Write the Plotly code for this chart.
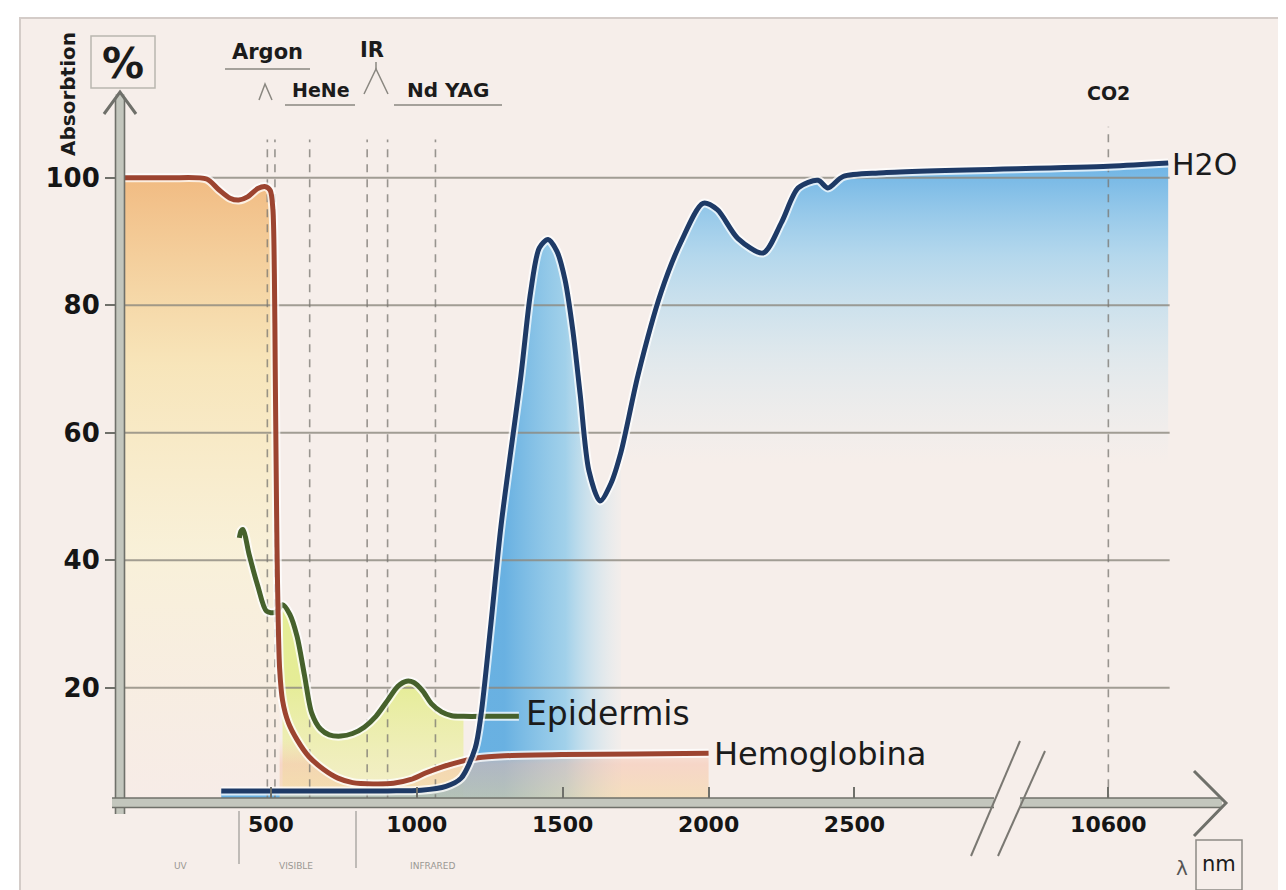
import numpy as np
import plotly.graph_objects as go

# ---------------- data ----------------
hemo_nm = [0, 150, 280, 320, 360, 390, 420, 455, 482, 498, 507, 512, 515, 518, 521, 525, 530, 540,
           560, 590, 630, 680, 730, 780, 850, 920, 980, 1030, 1090, 1150, 1210, 1300, 1500, 1750, 2000]
hemo_y = [100, 100, 99.8, 98.2, 96.8, 96.5, 97, 98.3, 98.6, 98, 95, 85, 70, 55, 42, 31, 23, 18,
          14.5, 11.8, 9.2, 7.2, 5.8, 5.1, 4.9, 5.0, 5.6, 6.6, 7.6, 8.4, 9.0, 9.3, 9.5, 9.6, 9.7]

epi_nm = [392, 398, 405, 425, 455, 485, 515, 540, 565, 590, 615, 640, 670, 700, 740, 780, 820,
          860, 900, 935, 965, 990, 1020, 1050, 1085, 1120, 1160, 1250, 1350]
epi_y = [43.5, 44.6, 44.8, 41, 36, 32, 31.8, 33, 31.5, 28, 22, 16, 13.5, 12.6, 12.4, 12.8, 13.8,
         15.5, 18, 20.2, 21, 20.8, 19.5, 17.5, 16.2, 15.6, 15.5, 15.5, 15.5]

water_nm = [330, 600, 900, 1015, 1100, 1152, 1200, 1220, 1254, 1289, 1357, 1390, 1420, 1450, 1480,
            1508, 1535, 1560, 1590, 1628, 1665, 1700, 1758, 1837, 1906, 1981, 2030, 2100, 2187,
            2250, 2307, 2375, 2409, 2461, 2600, 10600, 11420]
water_y = [3.8, 3.8, 3.8, 3.9, 4.5, 5.8, 10.5, 15.7, 30, 45.5, 69, 82, 89, 90.3, 88.5,
           84, 76, 66, 54, 49.3, 52, 57, 69, 82, 90, 96, 95, 90.5, 88.2,
           93, 98.4, 99.6, 98.4, 100.2, 100.8, 101.8, 102.3]

laser_lines_nm = [488, 514, 633, 830, 900, 1064, 10600]
x_ticks_nm = [500, 1000, 1500, 2000, 2500, 10600]
x_tick_text = ["500", "1000", "1500", "2000", "2500", "10600"]
y_ticks = [20, 40, 60, 80, 100]
y_tick_text = ["20", "40", "60", "80", "100"]
grid_end_nm = 11440

# broken x axis: 0-3000 nm linear, then compressed segment around 10600 nm
BREAK_IN = [0, 3000, 10600, 12000]
BREAK_OUT = [0, 3000, 3370, 3720]


def pos(w):
    return np.interp(np.asarray(w, dtype=float), BREAK_IN, BREAK_OUT)


# ---------------- layout geometry ----------------
WIDTH, HEIGHT = 1286, 890
L, R, T, B = 112, 66, 85, 95
W = WIDTH - L - R
H = HEIGHT - T - B
BG = "#f6eeea"
AX = "#6f706a"
FONT = "DejaVu Sans, Liberation Sans, Arial, sans-serif"


def PX(px):
    return (px - L) / W


def PY(py):
    return (HEIGHT - B - py) / H


fig = go.Figure()
spl = dict(shape="spline", smoothing=0.8)

hx = pos(hemo_nm)
hy = np.array(hemo_y)
ex = pos(epi_nm)
ey = np.array(epi_y)
wx = pos(water_nm)
wy = np.array(water_y)
wn = np.array(water_nm)
hn = np.array(hemo_nm)
en = np.array(epi_nm)

# hemoglobin main fill (orange -> pale)
m = hn <= 530
fig.add_trace(go.Scatter(x=hx[m], y=hy[m], mode="none", fill="tozeroy", line=spl,
                         fillgradient=dict(type="vertical", start=2, stop=100,
                                           colorscale=[[0, "rgba(248,232,225,0.35)"],
                                                       [0.4, "rgba(250,242,205,0.6)"],
                                                       [0.7, "rgba(248,225,165,0.7)"],
                                                       [1, "rgba(240,178,112,0.85)"]]),
                         hoverinfo="skip"))
# epidermis fill (yellow-green)
m = (en >= 540) & (en <= 1160)
fig.add_trace(go.Scatter(x=ex[m], y=ey[m], mode="none", fill="tozeroy", line=spl,
                         fillgradient=dict(type="vertical", start=2, stop=21,
                                           colorscale=[[0, "rgba(243,240,185,0.6)"],
                                                       [1, "rgba(226,236,135,0.85)"]]),
                         hoverinfo="skip"))
# water fills: right part fades downward, left peak fades to the right
m = wn >= 1535
fig.add_trace(go.Scatter(x=wx[m], y=wy[m], mode="none", fill="tozeroy", line=spl,
                         fillgradient=dict(type="vertical", start=55, stop=102,
                                           colorscale=[[0, "rgba(200,232,246,0)"],
                                                       [0.35, "rgba(170,218,242,0.28)"],
                                                       [0.7, "rgba(135,200,238,0.6)"],
                                                       [1, "rgba(92,172,228,0.88)"]]),
                         hoverinfo="skip"))
m = wn <= 1700
fig.add_trace(go.Scatter(x=wx[m], y=wy[m], mode="none", fill="tozeroy", line=spl,
                         fillgradient=dict(type="horizontal", start=float(pos(1300)), stop=float(pos(1720)),
                                           colorscale=[[0, "rgba(80,166,224,0.85)"],
                                                       [0.5, "rgba(125,196,234,0.7)"],
                                                       [1, "rgba(200,232,246,0.0)"]]),
                         hoverinfo="skip"))
# hemoglobin tail fill (peach band under the red tail)
m = hn >= 530
fig.add_trace(go.Scatter(x=hx[m], y=hy[m], mode="none", fill="tozeroy", line=spl,
                         fillgradient=dict(type="vertical", start=2, stop=12,
                                           colorscale=[[0, "rgba(244,212,150,0.55)"],
                                                       [0.6, "rgba(246,190,165,0.5)"],
                                                       [1, "rgba(246,195,170,0.0)"]]),
                         hoverinfo="skip"))

# grid lines (drawn over fills, under curves)
for yv in y_ticks:
    fig.add_trace(go.Scatter(x=[0, float(pos(grid_end_nm))], y=[yv, yv], mode="lines",
                             line=dict(color="rgba(140,136,126,0.8)", width=2), hoverinfo="skip"))

# laser dashed verticals
for lw in laser_lines_nm:
    top = 108 if lw == 10600 else 106
    fig.add_trace(go.Scatter(x=[float(pos(lw))] * 2, y=[2, top], mode="lines",
                             line=dict(color="rgba(120,118,112,0.75)", width=1.6, dash="8px,7px"),
                             hoverinfo="skip"))

# curves with light halos
for xs, ys, col, wd in [(ex, ey, "#46612c", 5), (hx, hy, "#9c4430", 5), (wx, wy, "#1e3a66", 5)]:
    fig.add_trace(go.Scatter(x=xs, y=ys, mode="lines",
                             line=dict(color="rgba(255,255,255,0.75)", width=wd + 4, shape="spline", smoothing=0.8),
                             hoverinfo="skip"))
    fig.add_trace(go.Scatter(x=xs, y=ys, mode="lines",
                             line=dict(color=col, width=wd, shape="spline", smoothing=0.8),
                             hoverinfo="skip"))

shapes = []


def pline(x0, y0, x1, y1, color=AX, width=2, layer="above"):
    shapes.append(dict(type="line", xref="paper", yref="paper", x0=PX(x0), y0=PY(y0),
                       x1=PX(x1), y1=PY(y1), line=dict(color=color, width=width), layer=layer))


def ppath(pts, color=AX, width=2):
    d = "M " + " L ".join(f"{PX(a):.5f},{PY(b):.5f}" for a, b in pts)
    shapes.append(dict(type="path", xref="paper", yref="paper", path=d,
                       line=dict(color=color, width=width), layer="above"))


# page background with thin scan border
shapes.append(dict(type="rect", xref="paper", yref="paper", x0=PX(12), y0=PY(884), x1=PX(1282), y1=PY(10),
                   fillcolor=BG, line=dict(color="#d4ccc8", width=2), layer="below"))

# y axis (double line band)
pline(112, 806, 112, 86, color="#c3c6bd", width=9)
pline(107.5, 806, 107.5, 90, width=1.6)
pline(116.5, 806, 116.5, 90, width=1.6)
ppath([(96, 106), (112, 84), (128, 106)], width=3)
# x axis (double line band)
pline(104, 794.5, 1214, 794.5, color="#c3c6bd", width=9)
pline(104, 790, 1214, 790, width=1.6)
pline(104, 799.5, 1214, 799.5, width=1.6)
ppath([(1186, 763), (1218, 795), (1186, 828)], width=3)
# axis break
shapes.append(dict(type="rect", xref="paper", yref="paper", x0=PX(986), y0=PY(806), x1=PX(1012), y1=PY(784),
                   fillcolor=BG, line=dict(width=0), layer="above"))
pline(963, 848, 1012, 733, color="#7a7872", width=2)
pline(990, 848, 1037, 743, color="#7a7872", width=2)

# % box
shapes.append(dict(type="rect", xref="paper", yref="paper", x0=PX(83), y0=PY(80), x1=PX(147), y1=PY(28),
                   line=dict(color="#b9b6b0", width=1.5), layer="above"))
# nm box
shapes.append(dict(type="rect", xref="paper", yref="paper", x0=PX(1188), y0=PY(882), x1=PX(1234), y1=PY(832),
                   line=dict(color="#8d8a85", width=1.5), layer="above"))

# laser label underlines and carets
pline(217, 61, 302, 61, color="#8a8780", width=1.6)
pline(277, 97, 347, 97, color="#8a8780", width=1.6)
pline(386, 97, 494, 97, color="#8a8780", width=1.6)
ppath([(251, 92), (257, 76), (264, 92)], color="#8a8780", width=1.5)
ppath([(356, 86), (368, 61), (380, 86)], color="#8a8780", width=1.5)
pline(368, 54, 368, 61, color="#8a8780", width=1.5)

# spectrum brackets under the axis
pline(231, 803, 231, 856, color="#9c9994", width=1.2)
pline(348, 803, 348, 860, color="#9c9994", width=1.2)

annotations = []


def label(text, x, y, size, color="#1b1b1b", weight="normal", angle=0):
    annotations.append(dict(text=text, xref="paper", yref="paper", x=PX(x), y=PY(y),
                            xanchor="center", yanchor="middle", showarrow=False, textangle=angle,
                            font=dict(family=FONT, size=size, color=color, weight=weight)))


label("Absorbtion", 60, 86, 20, weight="bold", angle=-90)
label("%", 115, 55, 42, weight="bold")
label("Argon", 259, 44, 21, weight="bold")
label("IR", 364, 42, 21, weight="bold")
label("HeNe", 313, 82, 19, weight="bold")
label("Nd YAG", 440, 82, 20, weight="bold")
label("CO2", 1100, 85, 19, weight="bold")
label("H2O", 1196, 156, 30)
label("Epidermis", 600, 705, 33)
label("Hemoglobina", 812, 746, 32)
label("UV", 173, 858, 9, color="#9a9893")
label("VISIBLE", 288, 858, 9, color="#9a9893")
label("INFRARED", 425, 858, 9, color="#9a9893")
label("λ", 1174, 860, 20, color="#555")
label("nm", 1211, 856, 21)

fig.update_layout(
    width=WIDTH, height=HEIGHT,
    margin=dict(l=L, r=R, t=T, b=B),
    paper_bgcolor="white", plot_bgcolor="rgba(0,0,0,0)",
    showlegend=False,
    shapes=shapes, annotations=annotations,
    xaxis=dict(range=[-17, 3780], showgrid=False, zeroline=False, showline=False,
               tickvals=[float(v) for v in pos(x_ticks_nm)], ticktext=x_tick_text,
               ticks="inside", ticklen=16, tickwidth=2, tickcolor=AX, ticklabelstandoff=6,
               tickfont=dict(family=FONT, size=22, color="#151515", weight="bold")),
    yaxis=dict(range=[1.9, 113.3], showgrid=False, zeroline=False, showline=False,
               tickvals=y_ticks, ticktext=y_tick_text,
               ticks="outside", ticklen=14, tickwidth=2, tickcolor=AX,
               tickfont=dict(family=FONT, size=26, color="#151515", weight="bold")),
)

fig.write_html("out.html")
